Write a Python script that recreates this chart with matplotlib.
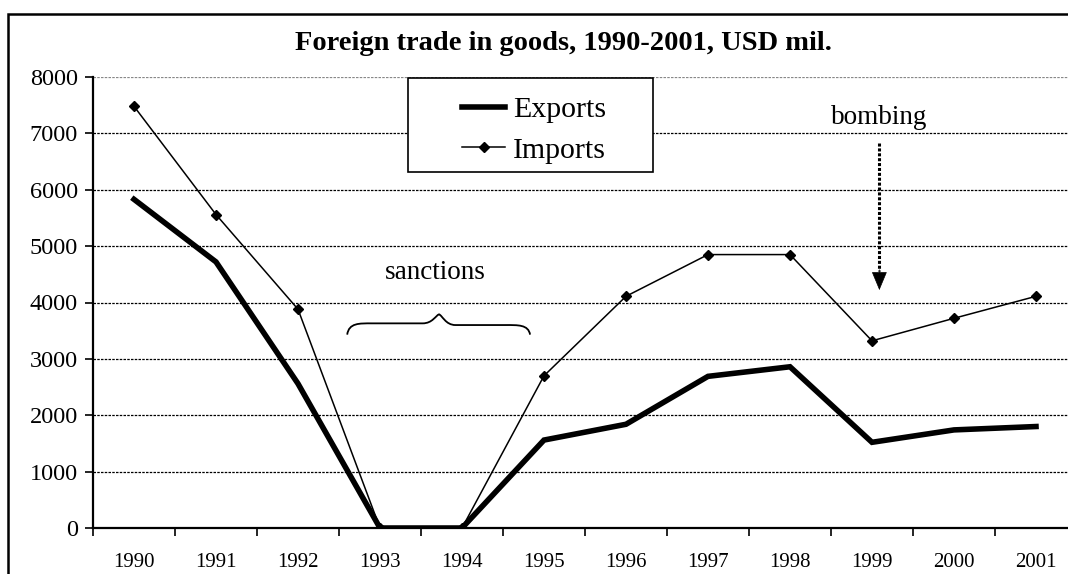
import matplotlib
matplotlib.use("Agg")
import matplotlib.pyplot as plt
from matplotlib.patches import Rectangle, PathPatch
from matplotlib.path import Path

plt.rcParams["font.family"] = ["Liberation Serif", "DejaVu Serif"]

# -------------------------------
# DATA
# -------------------------------
years = ["1990", "1991", "1992", "1993", "1994", "1995",
         "1996", "1997", "1998", "1999", "2000", "2001"]
exports = [5830, 4720, 2560, 0, 0, 1560, 1840, 2690, 2860, 1520, 1740, 1800]
imports = [7480, 5560, 3880, 0, 0, 2700, 4110, 4850, 4850, 3320, 3720, 4110]
y_ticks = [0, 1000, 2000, 3000, 4000, 5000, 6000, 7000, 8000]

W, H = 1068, 574
fig = plt.figure(figsize=(W / 100, H / 100), dpi=100)
ax = fig.add_axes([93 / W, 1 - 528 / H, (1077 - 93) / W, (528 - 77) / H])

x = list(range(len(years)))
ax.plot(x, exports, color="black", lw=4.0, solid_joinstyle="miter",
        label="Exports", zorder=4)
ax.plot(x, imports, color="black", lw=1.1, marker="D", markersize=5.5,
        label="Imports", zorder=4)

ax.set_xlim(-0.5, len(years) - 0.5)
ax.set_ylim(0, 8000)
ax.set_yticks(y_ticks)
ax.set_yticklabels([str(v) for v in y_ticks], fontsize=17.5)

ax.set_xticks(x)
ax.set_xticklabels(years, fontsize=15)
ax.set_xticks([i + 0.5 for i in range(-1, len(years))], minor=True)
ax.tick_params(axis="x", which="major", length=0, pad=18)
ax.tick_params(axis="x", which="minor", length=6, width=1.2, direction="out")
ax.tick_params(axis="y", length=6, width=1.2, direction="out", pad=5)

ax.yaxis.grid(True, color="black", lw=0.9, ls=(0, (2, 1)))
ax.set_axisbelow(True)
grid = ax.get_ygridlines()
grid[-1].set_color("#888888")

for s in ["top", "right"]:
    ax.spines[s].set_visible(False)
ax.spines["left"].set_linewidth(1.6)
ax.spines["bottom"].set_linewidth(1.6)

# legend box drawn by hand so its padding matches
ax.add_patch(Rectangle((0.320, 0.789), 0.249, 0.209, transform=ax.transAxes,
                       facecolor="white", edgecolor="black", lw=1.2, zorder=5))
leg = ax.legend(loc="center", bbox_to_anchor=(0.448, 0.8825),
                fontsize=21.5, frameon=False, handlelength=1.47,
                labelspacing=0.45, handletextpad=0.25, borderpad=0)
leg.set_zorder(6)

# annotations
ax.text(3.68, 4540, "sanctions", fontsize=19.5, ha="center", va="center")
ax.text(9.09, 7290, "bombing", fontsize=19.5, ha="center", va="center")

# curly brace under "sanctions"
bx0, bx1, bmid = 2.6, 4.83, 3.72
by, btip, bend = 3630, 3790, 3430
verts = [
    (bx0, bend), (bx0 + 0.02, by + 10), (bx0 + 0.15, by), (bx0 + 0.3, by),
    (bmid - 0.2, by),
    (bmid - 0.08, by), (bmid - 0.04, btip - 20), (bmid, btip),
    (bmid + 0.04, btip - 20), (bmid + 0.08, by - 30), (bmid + 0.2, by - 30),
    (bx1 - 0.3, by - 30),
    (bx1 - 0.15, by - 30), (bx1 - 0.02, by - 20), (bx1, bend),
]
codes = [Path.MOVETO, Path.CURVE4, Path.CURVE4, Path.CURVE4,
         Path.LINETO,
         Path.CURVE4, Path.CURVE4, Path.CURVE4,
         Path.CURVE4, Path.CURVE4, Path.CURVE4,
         Path.LINETO,
         Path.CURVE4, Path.CURVE4, Path.CURVE4]
ax.add_patch(PathPatch(Path(verts, codes), fill=False, lw=1.3, color="black"))

# dotted arrow for bombing
ax.plot([9.09, 9.09], [6830, 4560], color="black", lw=2.2, ls=(0, (1, 0.6)))
ax.annotate("", xy=(9.09, 4220), xytext=(9.09, 4580),
            arrowprops=dict(arrowstyle="-|>,head_length=1.2,head_width=0.5",
                            color="black", lw=0.5, shrinkA=0, shrinkB=0))

fig.text(563 / W, 1 - 43 / H, "Foreign trade in goods, 1990-2001, USD mil.",
         fontsize=20.5, fontweight="bold", ha="center", va="center")

# outer chart border (right and bottom cut off)
fig.patches.append(Rectangle((8 / W, -0.2), 2, 1.2 - 14 / H,
                             transform=fig.transFigure, fill=False,
                             lw=1.8, edgecolor="black"))

fig.savefig("out.png", dpi=100)
